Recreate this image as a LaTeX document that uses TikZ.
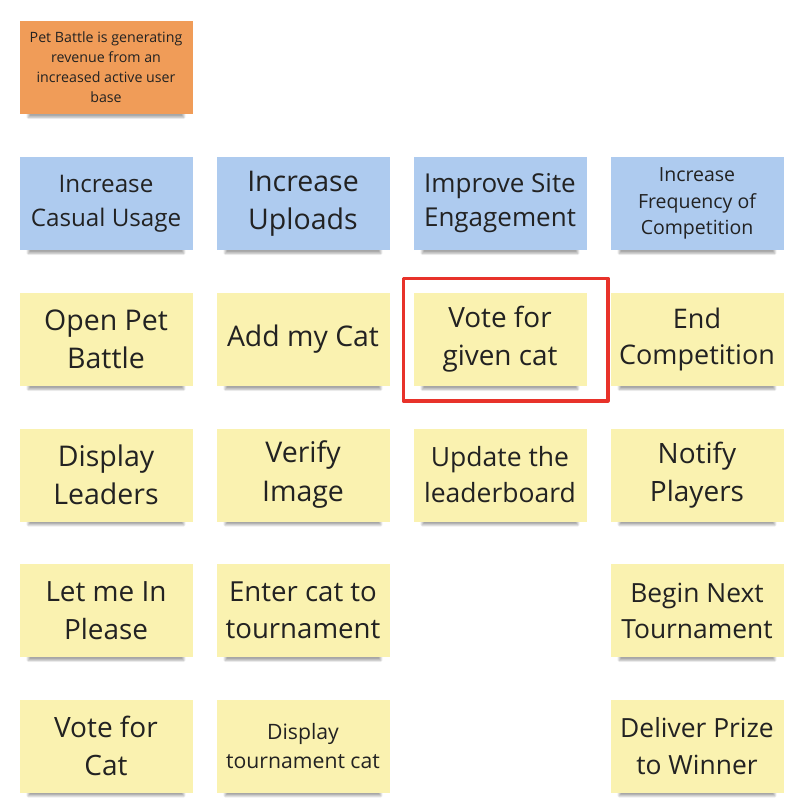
\documentclass[tikz,border=0pt]{standalone}
\usepackage{fontspec}
\setmainfont{Open Sans}
\usetikzlibrary{calc,fit,shadows.blur}
\definecolor{noteorange}{HTML}{F09C58}
\definecolor{noteblue}{HTML}{AECBEF}
\definecolor{noteyellow}{HTML}{FAF2B0}
\definecolor{notetext}{HTML}{222222}
\definecolor{markred}{HTML}{E8322A}
\tikzset{
  note/.style={rectangle, minimum width=173pt, minimum height=93pt, inner sep=2pt,
    align=center, text=notetext,
    blur shadow={shadow xshift=0pt, shadow yshift=-9pt, shadow scale=0.9,
      shadow opacity=35, shadow blur steps=10}},
  goal/.style={note, fill=noteorange},
  outcome/.style={note, fill=noteblue},
  story/.style={note, fill=noteyellow},
  fs/.style args={#1/#2}{font=\fontsize{#1}{#2}\selectfont},
  redmark/.style={draw=markred, line width=3.6pt}
}
\begin{document}
\begin{tikzpicture}[x=1pt, y=-1pt, line join=round]
	\useasboundingbox (0,0) rectangle (802,810);
	% goal
	\node[goal, fs=14.2/20] (goal) at (106,67.5) {Pet Battle is generating\\revenue from an\\increased active user\\base};
	% outcomes
	\node[outcome, fs=24.2/34] (casual) at (106,203.5) {Increase\\Casual Usage};
	\node[outcome, fs=28.5/38] (uploads) at (303,203.5) {Increase\\Uploads};
	\node[outcome, fs=26/34] (engage) at (500,203.5) {Improve Site\\Engagement};
	\node[outcome, fs=19.5/26.5] (frequency) at (697,203.5) {Increase\\Frequency of\\Competition};
	% stories
	\node[story, fs=28.5/38] (open) at (106,339.5) {Open Pet\\Battle};
	\node[story, fs=28.4/38] (addcat) at (303,339.5) {Add my Cat};
	\node[story, fs=27.9/38] (vote) at (500,339.5) {Vote for\\given cat};
	\node[story, fs=27/36] (endcomp) at (697,339.5) {End\\Competition};
	\node[story, fs=28.5/38] (leaders) at (106,475) {Display\\Leaders};
	\node[story, fs=28.5/39] (verify) at (303,475) {Verify\\Image};
	\node[story, fs=26.5/36] (update) at (500,475) {Update the\\leaderboard};
	\node[story, fs=28/38] (notify) at (697,475) {Notify\\Players};
	\node[story, fs=27.9/38] (letmein) at (106,610.5) {Let me In\\Please};
	\node[story, fs=27.6/37] (enter) at (303,610.5) {Enter cat to\\tournament};
	\node[story, fs=26.4/36] (begin) at (697,610.5) {Begin Next\\Tournament};
	\node[story, fs=28/38] (votecat) at (106,746) {Vote for\\Cat};
	\node[story, fs=21.2/29] (display) at (303,746) {Display\\tournament cat};
	\node[story, fs=26.4/37] (deliver) at (697,746) {Deliver Prize\\to Winner};
	% highlight
	\draw[redmark] ($(vote.north west)+(-10,-14.5)$) rectangle ($(vote.south east)+(21,14.5)$);
\end{tikzpicture}
\end{document}
